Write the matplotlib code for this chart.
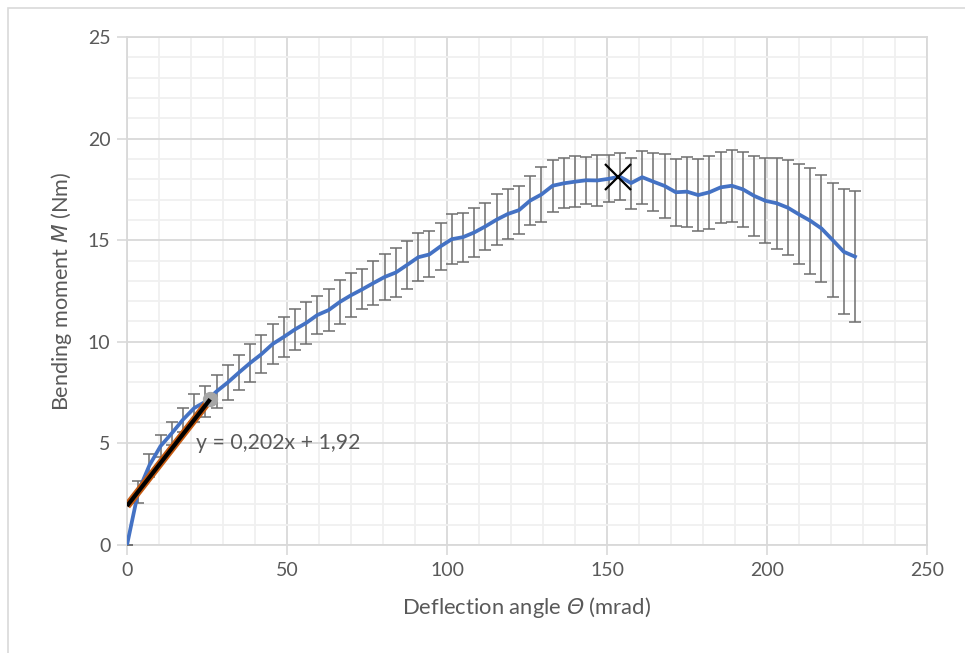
import matplotlib.pyplot as plt
from matplotlib.patches import Rectangle
from matplotlib.ticker import MultipleLocator

# deflection angle (mrad), mean bending moment (Nm) and its spread
angle = [i * 3.5 for i in range(66)]
moment = [0.0, 2.62, 3.92, 4.87, 5.50, 6.17, 6.74, 7.05, 7.56, 8.00,
          8.49, 8.96, 9.39, 9.89, 10.24, 10.61, 10.93, 11.32, 11.56, 11.96,
          12.29, 12.58, 12.89, 13.19, 13.41, 13.78, 14.16, 14.30, 14.70, 15.05,
          15.15, 15.38, 15.68, 16.01, 16.29, 16.48, 16.95, 17.25, 17.68, 17.80,
          17.88, 17.95, 17.94, 18.02, 18.13, 17.81, 18.10, 17.88, 17.67, 17.36,
          17.39, 17.22, 17.36, 17.60, 17.68, 17.50, 17.18, 16.94, 16.82, 16.60,
          16.27, 15.96, 15.58, 15.01, 14.43, 14.19]
spread = [0.0, 0.54, 0.56, 0.52, 0.57, 0.59, 0.67, 0.77, 0.80, 0.84,
          0.86, 0.92, 0.95, 0.98, 1.00, 1.02, 1.04, 0.95, 1.03, 1.08,
          1.08, 0.98, 1.08, 1.15, 1.19, 1.20, 1.17, 1.13, 1.16, 1.24,
          1.21, 1.22, 1.16, 1.25, 1.21, 1.19, 1.21, 1.37, 1.27, 1.23,
          1.26, 1.16, 1.24, 1.16, 1.15, 1.25, 1.31, 1.43, 1.56, 1.66,
          1.72, 1.76, 1.79, 1.74, 1.77, 1.86, 1.97, 2.10, 2.23, 2.33,
          2.46, 2.61, 2.64, 2.79, 3.07, 3.23]

# linear fit over the initial part
slope, intercept = 0.202, 1.92
fit_x = [0.0, 26.0]
fit_end_moment = 7.2
peak_angle, peak_moment = 153.5, 18.13

grey_text = "#595959"
plt.rcParams["font.family"] = ["Lato", "DejaVu Sans"]
# italic symbols (Theta, M) in the axis titles
plt.rcParams["mathtext.fontset"] = "custom"
plt.rcParams["mathtext.rm"] = "DejaVu Sans:italic"
plt.rcParams["mathtext.it"] = "DejaVu Sans:italic"

fig = plt.figure(figsize=(9.65, 6.53), dpi=100)
W, H = 965, 653
ax = fig.add_axes([127 / W, (H - 545) / H, 800 / W, 508 / H])

fig.patches.append(Rectangle((8 / W, -0.1), 1.0, (H - 8) / H + 0.1,
                             transform=fig.transFigure, fill=False,
                             edgecolor="#d9d9d9", linewidth=1.2))

ax.errorbar(angle, moment, yerr=spread, fmt="none", ecolor="#6e6e6e",
            elinewidth=1.1, capsize=4.3, capthick=1.1, zorder=3)
ax.plot(angle, moment, color="#4472C4", linewidth=2.7, zorder=4)

fit_y = [slope * x + intercept for x in fit_x]
ax.plot(fit_x, fit_y, color="#C55A11", linewidth=5.5, solid_capstyle="butt", zorder=5)
ax.plot(fit_x, fit_y, color="black", linewidth=3, solid_capstyle="butt", zorder=6)
ax.plot([fit_x[1]], [fit_end_moment], "o", color="#a6a6a6", markersize=10, zorder=5)
ax.plot([peak_angle], [peak_moment], "x", color="black", markersize=19,
        markeredgewidth=1.6, zorder=7)

ax.text(21.5, 5, "y = 0,202x + 1,92", fontsize=15.3, color=grey_text,
        va="center", ha="left", zorder=8)

ax.set_xlim(0, 250)
ax.set_ylim(0, 25)
ax.xaxis.set_major_locator(MultipleLocator(50))
ax.xaxis.set_minor_locator(MultipleLocator(10))
ax.yaxis.set_major_locator(MultipleLocator(5))
ax.yaxis.set_minor_locator(MultipleLocator(1))
ax.grid(which="major", color="#d9d9d9", linewidth=1.3)
ax.grid(which="minor", color="#f0f0f0", linewidth=1.3)
ax.set_axisbelow(True)
for side in ["top", "right", "bottom", "left"]:
    ax.spines[side].set_color("#d9d9d9")
    ax.spines[side].set_linewidth(1.3)
ax.tick_params(which="major", length=7, color="#d9d9d9", width=1.2,
               labelsize=14, labelcolor=grey_text, pad=5)
ax.tick_params(which="minor", length=0)

ax.set_xlabel("Deflection angle $\\mathrm{\\Theta}$ (mrad)", fontsize=15.8,
              color=grey_text, labelpad=12)
ax.set_ylabel("Bending moment $\\mathrm{M}$ (Nm)", fontsize=15.6,
              color=grey_text, labelpad=10)

fig.savefig("out.png", dpi=100)
